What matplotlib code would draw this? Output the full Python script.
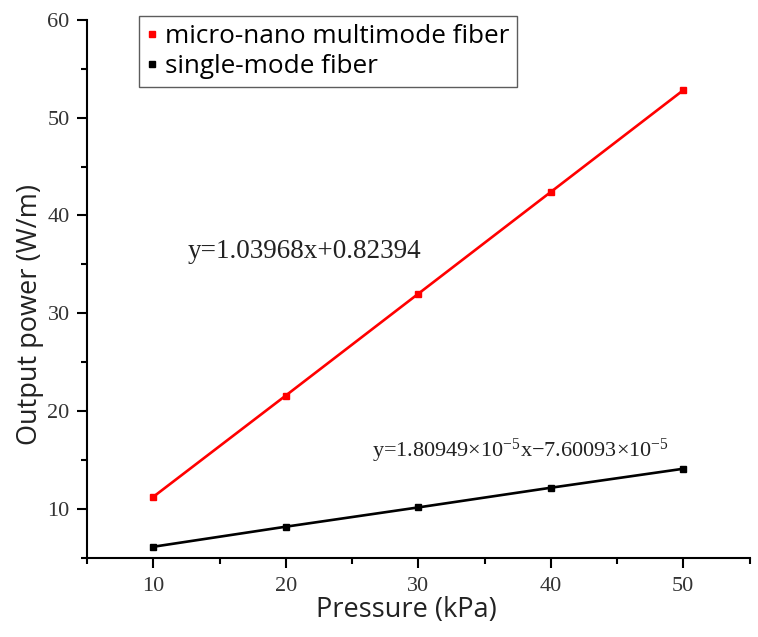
import matplotlib
matplotlib.use("Agg")
import matplotlib.pyplot as plt
from matplotlib.ticker import MultipleLocator

# data
pressure = [10, 20, 30, 40, 50]
multimode = [11.25, 21.6, 32.0, 42.4, 52.8]
singlemode = [6.15, 8.2, 10.17, 12.18, 14.12]

labels = ["micro-nano multimode fiber", "single-mode fiber"]
fit_multi = "y=1.03968x+0.82394"
fit_single = "y=1.80949×10$^{-5}$x−7.60093×10$^{-5}$"

plt.rcParams["mathtext.fontset"] = "custom"
plt.rcParams["mathtext.rm"] = "Liberation Serif"
plt.rcParams["mathtext.it"] = "Liberation Serif"

fig = plt.figure(figsize=(7.58, 6.37), dpi=100)
ax = fig.add_axes([0.1148, 0.124, 0.874, 0.845])

ax.plot(pressure, multimode, color="red", lw=1.9, marker="s", ms=4.5, label=labels[0])
ax.plot(pressure, singlemode, color="black", lw=1.9, marker="s", ms=4.5, label=labels[1])

ax.set_xlim(5, 55)
ax.set_ylim(5, 60)
ax.xaxis.set_minor_locator(MultipleLocator(5))
ax.yaxis.set_minor_locator(MultipleLocator(5))
ax.set_xticks([10, 20, 30, 40, 50])
ax.set_yticks([10, 20, 30, 40, 50, 60])

for side in ("top", "right"):
    ax.spines[side].set_visible(False)
for side in ("left", "bottom"):
    ax.spines[side].set_linewidth(1.5)
ax.tick_params(which="major", direction="out", length=7.5, width=1.5, pad=5,
               labelsize=16, labelcolor="#333333")
ax.tick_params(which="minor", direction="out", length=4.5, width=1.5)
ax.tick_params(axis="x", which="major", pad=6)
for lab in ax.get_xticklabels() + ax.get_yticklabels():
    lab.set_fontfamily("Liberation Serif")

ax.set_xlabel("Pressure (kPa)", fontfamily="Open Sans", fontsize=19.5, color="#222222")
ax.set_ylabel("Output power (W/m)", fontfamily="Open Sans", fontsize=19.5, color="#222222")
ax.xaxis.set_label_coords(0.4815, -0.097)
ax.yaxis.set_label_coords(-0.086, 0.452)
ax.xaxis.label.set_verticalalignment("center")
ax.yaxis.label.set_verticalalignment("center")

ax.text(12.6, 35.7, fit_multi, fontfamily="Liberation Serif", fontsize=19.5, color="#222222")
ax.text(26.5, 15.3, fit_single, fontfamily="Liberation Serif", fontsize=16, color="#222222")

leg = ax.legend(loc="upper left", bbox_to_anchor=(0.0785, 1.007), borderaxespad=0, frameon=True,
                fancybox=False, edgecolor="#333333", handlelength=0.4, handletextpad=0.3,
                borderpad=0.3, labelspacing=0.2, prop={"family": "Open Sans", "size": 18.8})
leg.get_frame().set_linewidth(1.0)
for h in leg.legend_handles:
    h.set_linestyle("none")

fig.savefig("out.png", dpi=100)
